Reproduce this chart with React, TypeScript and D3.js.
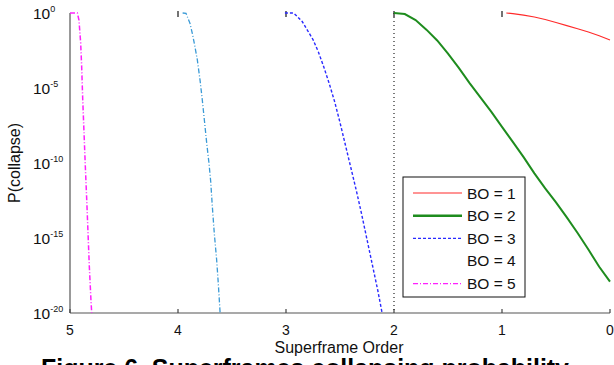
import React from 'react';
import * as d3 from 'd3';

// x = superframe order, exps = log10 of P(collapse)
const bo1X = [0.96, 0.9, 0.8, 0.7, 0.6, 0.5, 0.4, 0.3, 0.2, 0.1, 0.0];
const bo1Exp = [0, -0.04, -0.14, -0.27, -0.43, -0.63, -0.84, -1.05, -1.27, -1.51, -1.8];

const bo2X = [2.0, 1.9, 1.8, 1.7, 1.6, 1.5, 1.4, 1.3, 1.2, 1.1, 1.0, 0.9, 0.8, 0.7, 0.6, 0.5, 0.4, 0.3, 0.2, 0.1, 0.0];
const bo2Exp = [0, -0.07, -0.47, -1.11, -1.83, -2.71, -3.66, -4.67, -5.63, -6.58, -7.59, -8.59, -9.61, -10.69, -11.69, -12.62, -13.63, -14.67, -15.77, -16.92, -17.91];

const bo3X = [3.01, 2.93, 2.9, 2.85, 2.8, 2.75, 2.7, 2.65, 2.6, 2.55, 2.5, 2.45, 2.4, 2.35, 2.3, 2.25, 2.2, 2.15, 2.11];
const bo3Exp = [0, 0, -0.2, -0.57, -1.17, -1.77, -2.6, -3.6, -4.7, -5.9, -7.3, -8.8, -10.3, -11.8, -13.4, -15.1, -16.8, -18.5, -20];

const bo4X = [3.957, 3.926, 3.889, 3.864, 3.843, 3.821, 3.796, 3.775, 3.756, 3.734, 3.713, 3.697, 3.682, 3.664, 3.642, 3.627, 3.61];
const bo4Exp = [0, -0.02, -0.69, -1.47, -2.25, -3.13, -4.47, -5.8, -7.13, -8.69, -10.02, -11.25, -12.91, -14.69, -16.47, -18.02, -20];

const bo5X = [5.0, 4.932, 4.917, 4.901, 4.892, 4.882, 4.87, 4.858, 4.845, 4.833, 4.821, 4.806, 4.799];
const bo5Exp = [0, 0, -0.47, -2.02, -3.58, -5.8, -8.02, -10.25, -12.47, -14.69, -16.91, -19.13, -20];

const refX = [2, 2];
const refExp = [0, -20];

const xTicks = [5, 4, 3, 2, 1, 0];
const yTickExps = [0, -5, -10, -15, -20];
const legendLabels = ['BO = 1', 'BO = 2', 'BO = 3', 'BO = 4', 'BO = 5'];

const W = 614;
const H = 365;
const FONT = '"Liberation Sans", Arial, Helvetica, sans-serif';

const x = d3.scaleLinear().domain([5, 0]).range([70, 610]);
const y = d3.scaleLog().domain([1e-20, 1]).range([313, 13]);

const line = d3
  .line<[number, number]>()
  .x((d) => x(d[0]))
  .y((d) => y(Math.pow(10, d[1])));

const zip = (xs: number[], es: number[]) => xs.map((v, i) => [v, es[i]] as [number, number]);

const series = [
  { key: 'ref', d: zip(refX, refExp), color: '#222', width: 1.2, dash: '1,3' },
  { key: 'bo5', d: zip(bo5X, bo5Exp), color: '#ff20ff', width: 1.5, dash: '5,2,1,2' },
  { key: 'bo4', d: zip(bo4X, bo4Exp), color: '#3a9ad6', width: 1.3, dash: '5,2,1,2' },
  { key: 'bo3', d: zip(bo3X, bo3Exp), color: '#2a2aff', width: 1.4, dash: '3,2' },
  { key: 'bo2', d: zip(bo2X, bo2Exp), color: '#1e8c1e', width: 2, dash: undefined },
  { key: 'bo1', d: zip(bo1X, bo1Exp), color: '#ff2a2a', width: 1.1, dash: undefined },
];

const legendStyles = [
  { color: '#ff2a2a', width: 1.1, dash: undefined as string | undefined, show: true },
  { color: '#1e8c1e', width: 2.5, dash: undefined, show: true },
  { color: '#2a2aff', width: 1.2, dash: '3,2', show: true },
  { color: '#3a9ad6', width: 1, dash: '5,2,1,2', show: false },
  { color: '#ff20ff', width: 1.2, dash: '5,2,1,2', show: true },
];

const App: React.FC = () => {
  const lx = 403;
  const ly = 177;
  return (
    <svg
      width={W}
      height={H}
      style={{ position: 'absolute', left: 0, top: 0, background: '#fff' }}
      fontFamily={FONT}
    >
      <rect x={0} y={0} width={W} height={H} fill="#fff" />

      {/* axes */}
      <line x1={70} x2={70} y1={13} y2={313} stroke="#555" strokeWidth={1.2} />
      <line x1={70} x2={610} y1={313} y2={313} stroke="#555" strokeWidth={1.2} />
      {xTicks.map((t) => (
        <g key={t}>
          <line x1={x(t)} x2={x(t)} y1={313} y2={309} stroke="#444" strokeWidth={1.2} />
          {t > 0 && t < 5 && (
            <line x1={x(t)} x2={x(t)} y1={11} y2={17} stroke="#444" strokeWidth={1.5} />
          )}
          <text x={x(t)} y={335} textAnchor="middle" fontSize={14} fill="#111">
            {t}
          </text>
        </g>
      ))}
      {yTickExps.map((e) => (
        <text key={e} x={33} y={y(Math.pow(10, e)) + 5.5} fontSize={15.5} fill="#111">
          10
          <tspan dy={-7} fontSize={9}>
            {e}
          </tspan>
        </text>
      ))}

      {/* series */}
      {series.map((s) => (
        <path
          key={s.key}
          d={line(s.d) || ''}
          fill="none"
          stroke={s.color}
          strokeWidth={s.width}
          strokeDasharray={s.dash}
        />
      ))}

      {/* legend */}
      <rect x={lx} y={ly} width={122} height={120} fill="#fff" stroke="#111" strokeWidth={1} />
      {legendLabels.map((lab, i) => {
        const st = legendStyles[i];
        const yy = ly + 16 + i * 22.65;
        return (
          <g key={lab}>
            {st.show && (
              <line
                x1={lx + 10}
                x2={lx + 59}
                y1={yy}
                y2={yy}
                stroke={st.color}
                strokeWidth={st.width}
                strokeDasharray={st.dash}
              />
            )}
            <text x={lx + 64} y={yy + 5.5} fontSize={15.5} fill="#111">
              {lab}
            </text>
          </g>
        );
      })}

      {/* labels */}
      <text x={339} y={353} textAnchor="middle" fontSize={16} fill="#111">
        Superframe Order
      </text>
      <text
        transform="translate(20,163) rotate(-90)"
        textAnchor="middle"
        fontSize={16}
        fill="#111"
      >
        P(collapse)
      </text>
      <text
        x={41}
        y={377}
        fontSize={25}
        fontWeight="bold"
        fill="#000"
        textLength={528}
        lengthAdjust="spacingAndGlyphs"
      >
        Figure 6. Superframes collapsing probability
      </text>
    </svg>
  );
};

export default App;
